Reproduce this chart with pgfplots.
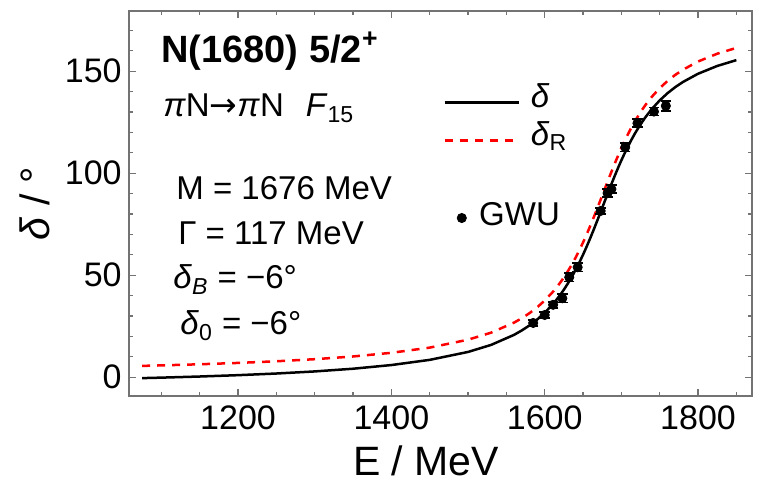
\documentclass[border=0pt]{standalone}
\usepackage{fontspec}
\setmainfont{Liberation Sans}
\newfontfamily\dejavu{DejaVu Sans}
\usepackage{pgfplots}
\pgfplotsset{compat=1.18}
\definecolor{framegray}{gray}{0.45}
\pgfplotstableread{
E d
1075 -0.44
1100 -0.20
1150 0.35
1200 1.01
1250 1.82
1300 2.84
1350 4.17
1400 5.97
1450 8.51
1500 12.39
1530 15.83
1560 20.76
1570 22.90
1580 25.36
1590 28.22
1600 31.59
1610 35.57
1615 37.80
1620 40.25
1625 42.91
1630 45.82
1635 48.98
1640 52.39
1645 56.08
1650 60.04
1655 64.25
1660 68.70
1664 72.41
1668 76.21
1672 80.09
1676 84.00
1680 87.91
1684 91.79
1688 95.59
1692 99.30
1696 102.87
1700 106.31
1706 111.15
1712 115.61
1718 119.68
1725 123.96
1732 127.75
1740 131.57
1750 135.68
1760 139.15
1770 142.10
1780 144.64
1800 148.74
1825 152.56
1850 155.42
}\deltatab
\pgfplotstableread{
E d
1075 5.56
1100 5.80
1150 6.35
1200 7.01
1250 7.82
1300 8.84
1350 10.17
1400 11.97
1450 14.51
1500 18.39
1530 21.83
1560 26.76
1570 28.90
1580 31.36
1590 34.22
1600 37.59
1610 41.57
1615 43.80
1620 46.25
1625 48.91
1630 51.82
1635 54.98
1640 58.39
1645 62.08
1650 66.04
1655 70.25
1660 74.70
1664 78.41
1668 82.21
1672 86.09
1676 90.00
1680 93.91
1684 97.79
1688 101.59
1692 105.30
1696 108.87
1700 112.31
1706 117.15
1712 121.61
1718 125.68
1725 129.96
1732 133.75
1740 137.57
1750 141.68
1760 145.15
1770 148.10
1780 150.64
1800 154.74
1825 158.56
1850 161.42
}\deltaRtab
\pgfplotstableread{
E d err
1585 26.6 1.5
1600 30.5 1.5
1611 35.5 1.5
1623 38.7 2
1632 49.0 2
1643 53.9 2
1673 81.5 1.5
1682 90.2 2
1687 92.2 2
1705 112.7 2
1721 124.5 2
1742.5 130.2 2
1758 133.0 2.5
}\gwutab
\begin{document}
\begin{tikzpicture}
\begin{axis}[
  scale only axis, width=311.5bp, height=192.5bp,
  xmin=1057.8, xmax=1870.4, ymin=-9.2, ymax=179.5,
  xtick={1200,1400,1600,1800},
  minor xtick={1100,1150,1250,1300,1350,1450,1500,1550,1650,1700,1750,1850},
  ytick={0,50,100,150},
  minor ytick={10,20,30,40,60,70,80,90,110,120,130,140,160,170},
  tick align=inside,
  major tick length=3.5bp, minor tick length=2bp,
  axis line style={framegray, line width=0.75bp},
  every tick/.style={framegray, line width=0.6bp},
  /pgf/number format/assume math mode=true,
  /pgf/number format/set thousands separator={},
  tick label style={font=\fontsize{17bp}{20bp}\selectfont, inner sep=0pt, text=black},
  yticklabel style={xshift=-3.5bp},
  xticklabel style={yshift=-4.5bp},
  xlabel={E / MeV}, ylabel={\textit{δ} / °},
  every axis x label/.style={at={(rel axis cs:0.4767,0)}, yshift=-32.5bp, anchor=center,
    font=\fontsize{20.5bp}{24bp}\selectfont},
  every axis y label/.style={at={(rel axis cs:0,0.5)}, xshift=-47bp, rotate=90, anchor=center,
    font=\fontsize{20.5bp}{24bp}\selectfont},
  legend style={at={(0.504,0.813)}, anchor=north west, draw=none, fill=none,
    inner sep=0pt, column sep=5.5bp,
    nodes={inner sep=0pt, text depth=, text height=},
    font=\fontsize{16.5bp}{20bp}\selectfont},
  legend cell align=left,
  legend image code/.code={\draw[#1] (0bp,0bp) -- (37bp,0bp);},
  clip=false,
]
\coordinate (SW) at (rel axis cs:0,0);
\coordinate (NE) at (rel axis cs:1,1);
\addplot[black, line width=1.25bp, line join=round] table[x=E, y=d] {\deltatab};
\addlegendentry{\rule[-7bp]{0pt}{15bp}\textit{δ}}
\addplot[red, line width=1.25bp, dash pattern=on 4bp off 3.5bp] table[x=E, y=d] {\deltaRtab};
\addlegendentry{\rule[-7bp]{0pt}{15bp}\textit{δ}\textsubscript{R}}
\addplot[black, only marks, mark=*, mark size=2.3bp, forget plot,
  error bars/.cd, y dir=both, y explicit,
  error bar style={line width=0.8bp},
  error mark options={rotate=90, mark size=2.6bp, line width=0.8bp}]
  table[x=E, y=d, y error=err] {\gwutab};
\node[anchor=base west, inner sep=0pt, font=\fontsize{19bp}{22bp}\selectfont\bfseries] at (axis cs:1099.5,154.1) {N(1680) 5/2\textsuperscript{+}};
\node[anchor=base west, inner sep=0pt, font=\fontsize{16.5bp}{20bp}\selectfont] at (axis cs:1102.1,127.6) {\textit{π}N{\dejavu →}\textit{π}N\hspace{11bp}\textit{F}\textsubscript{15}};
\node[anchor=base west, inner sep=0pt, font=\fontsize{16.5bp}{20bp}\selectfont] at (axis cs:1119.1,87.25) {M = 1676 MeV};
\node[anchor=base west, inner sep=0pt, font=\fontsize{16.5bp}{20bp}\selectfont] at (axis cs:1121.7,64.9) {Γ = 117 MeV};
\node[anchor=base west, inner sep=0pt, font=\fontsize{16.5bp}{20bp}\selectfont] at (axis cs:1115.2,43.3) {\textit{δ}\textsubscript{\textit{B}} = −6°};
\node[anchor=base west, inner sep=0pt, font=\fontsize{16.5bp}{20bp}\selectfont] at (axis cs:1124.3,20.7) {\textit{δ}\textsubscript{0} = −6°};
\end{axis}
\begin{axis}[
  at={(SW)}, anchor=south west,
  scale only axis, width=311.5bp, height=192.5bp,
  hide axis, xmin=0, xmax=1, ymin=0, ymax=1,
  legend style={at={(0.5255,0.4623)}, anchor=west, draw=none, fill=none,
    inner sep=0pt, column sep=6.2bp,
    nodes={inner sep=0pt, text depth=, text height=},
    font=\fontsize{16.5bp}{20bp}\selectfont},
  legend cell align=left,
]
\addlegendimage{legend image code/.code={\path[draw=none] (-2.3bp,-2.3bp) rectangle (2.3bp,2.3bp); \fill[black] (0bp,0bp) circle (2.3bp);}}
\addlegendentry{\rule[-4bp]{0pt}{12bp}GWU}
\end{axis}
\pgfresetboundingbox
\path[use as bounding box] ([xshift=-64.5bp,yshift=-44bp]SW) rectangle ([xshift=8bp,yshift=5.5bp]NE);
\end{tikzpicture}
\end{document}
